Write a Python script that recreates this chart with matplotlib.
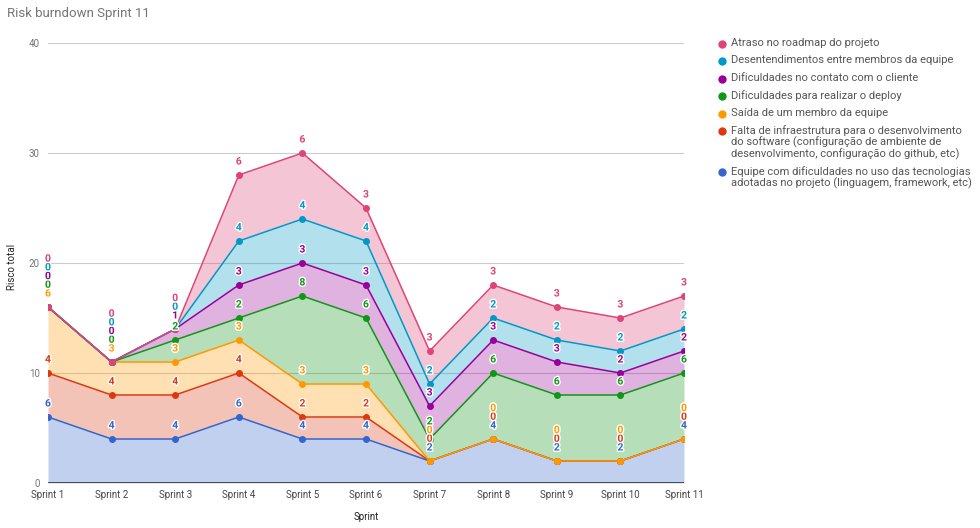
import matplotlib
matplotlib.use("Agg")
import matplotlib.pyplot as plt
import matplotlib.patheffects as pe
import numpy as np

plt.rcParams['font.family'] = ['Roboto', 'DejaVu Sans']

sprints = ["Sprint 1", "Sprint 2", "Sprint 3", "Sprint 4", "Sprint 5", "Sprint 6",
           "Sprint 7", "Sprint 8", "Sprint 9", "Sprint 10", "Sprint 11"]

# bottom to top of the stack
names = [
    "Equipe com dificuldades no uso das tecnologias\nadotadas no projeto (linguagem, framework, etc)",
    "Falta de infraestrutura para o desenvolvimento\ndo software (configuração de ambiente de\ndesenvolvimento, configuração do github, etc)",
    "Saída de um membro da equipe",
    "Dificuldades para realizar o deploy",
    "Dificuldades no contato com o cliente",
    "Desentendimentos entre membros da equipe",
    "Atraso no roadmap do projeto",
]
equipe = [6, 4, 4, 6, 4, 4, 2, 4, 2, 2, 4]
infra = [4, 4, 4, 4, 2, 2, 0, 0, 0, 0, 0]
saida = [6, 3, 3, 3, 3, 3, 0, 0, 0, 0, 0]
deploy = [0, 0, 2, 2, 8, 6, 2, 6, 6, 6, 6]
contato = [0, 0, 1, 3, 3, 3, 3, 3, 3, 2, 2]
desent = [0, 0, 0, 4, 4, 4, 2, 2, 2, 2, 2]
atraso = [0, 0, 0, 6, 6, 3, 3, 3, 3, 3, 3]
series = [equipe, infra, saida, deploy, contato, desent, atraso]
colors = ["#3366cc", "#dc3912", "#ff9900", "#109618", "#990099", "#0099c6", "#dd4477"]

fig = plt.figure(figsize=(9.8, 5.28), dpi=100)
ax = fig.add_axes([48 / 980, 45 / 528, 636 / 980, 440 / 528])

x = np.arange(len(sprints))
vals = np.array(series, dtype=float)
cum = np.cumsum(vals, axis=0)

for y in [10, 20, 30, 40]:
    ax.axhline(y, color="#cccccc", lw=0.8, zorder=0)
ax.axhline(0, color="#333333", lw=1.2, zorder=5)

lower = np.zeros(len(x))
for i in range(len(series)):
    ax.fill_between(x, lower, cum[i], color=colors[i], alpha=0.3, lw=0, zorder=1)
    lower = cum[i]
for i in range(len(series)):
    ax.plot(x, cum[i], color=colors[i], lw=1.1, marker="o", markersize=4, zorder=3)

# data labels, pushed upward when they would collide (pixel units, 11 px per unit)
halo = [pe.withStroke(linewidth=2, foreground="white")]
for j in range(len(x)):
    prev = -100
    for i in range(len(series)):
        ypx = cum[i][j] * 11
        lab = ypx + 13.5
        if lab < prev + 8.7:
            lab = prev + 8.7
        prev = lab
        ax.annotate(str(series[i][j]), (x[j], cum[i][j]), xytext=(0, (lab - ypx) * 0.72),
                    textcoords="offset points", ha="center", va="center",
                    fontsize=7.5, fontweight="bold", color=colors[i],
                    path_effects=halo, zorder=6, annotation_clip=False)

ax.set_xlim(0, 10)
ax.set_ylim(0, 40)
ax.set_yticks([0, 10, 20, 30, 40])
ax.set_xticks(x)
ax.set_xticklabels(sprints)
ax.tick_params(axis="x", length=0, pad=5, labelsize=7, labelcolor="#444444")
ax.tick_params(axis="y", length=0, pad=6, labelsize=7, labelcolor="#757575")
for s in ax.spines.values():
    s.set_visible(False)
ax.set_xlabel("Sprint", fontsize=7, color="#222222", labelpad=9)
ax.set_ylabel("Risco total", fontsize=7, color="#222222")
ax.yaxis.set_label_coords(-0.049, 0.49)

fig.text(7 / 980, 1 - 13 / 528, "Risk burndown Sprint 11", fontsize=9.5,
         color="#757575", va="center", ha="left")

# legend, top entry first
leg_y = [44, 61, 79, 96, 114, 131, 172]
for k, i in enumerate(range(len(series) - 1, -1, -1)):
    yy = 1 - leg_y[k] / 528
    fig.add_artist(plt.Line2D([722 / 980], [yy], marker="o", markersize=5,
                              color=colors[i], transform=fig.transFigure))
    fig.text(731 / 980, yy + 6 / 528, names[i], fontsize=8.0, color="#555555",
             va="top", ha="left", linespacing=1.08)

fig.savefig("out.png", dpi=100)
